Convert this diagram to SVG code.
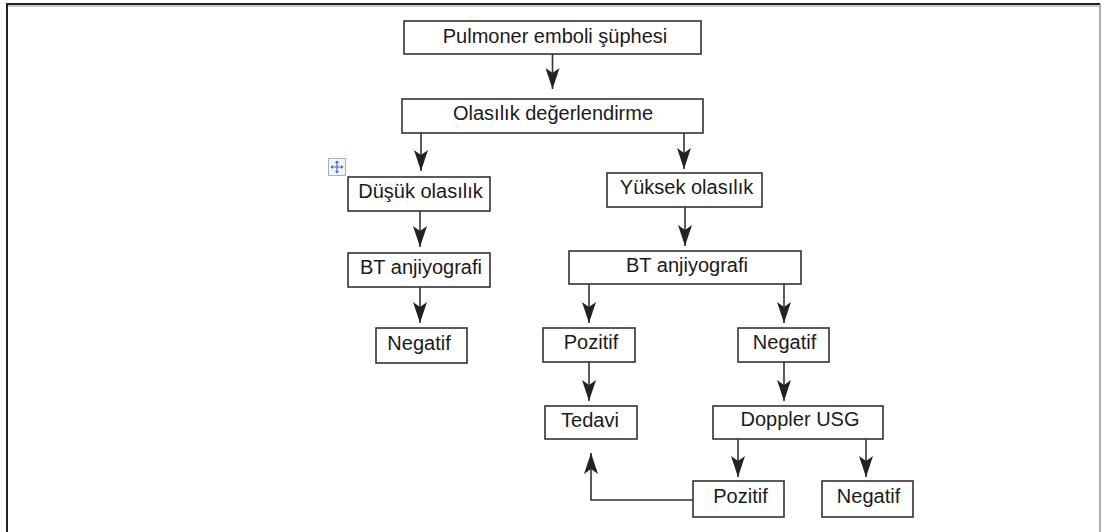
<svg xmlns="http://www.w3.org/2000/svg" width="1101" height="532" viewBox="0 0 1101 532">
  <defs>
    <marker id="arr" markerUnits="userSpaceOnUse" markerWidth="22" markerHeight="14" viewBox="0 0 22 14" refX="21" refY="7" orient="auto">
      <path d="M0,0 L21,7 L0,14 L5,7 Z" fill="#222"/>
    </marker>
    <style>
      .box { fill: #ffffff; stroke: #333333; stroke-width: 1.6; }
      .lbl { font-family: "Liberation Sans", Arial, sans-serif; font-size: 20px; fill: #1a1a1a; text-anchor: middle; }
      .con { fill: none; stroke: #333333; stroke-width: 1.6; marker-end: url(#arr); }
    </style>
  </defs>
  <rect width="1101" height="532" fill="#ffffff"/>
  <!-- outer frame -->
  <path d="M7,540 L7,4 L1100,4" fill="none" stroke="#222" stroke-width="2"/>
  <path d="M8,6 L1099,6" fill="none" stroke="#999" stroke-width="1"/>
  <path d="M1100,4 L1100,540" fill="none" stroke="#777" stroke-width="1.2"/>

  <!-- move handle -->
  <g id="move-handle">
    <rect x="328.5" y="158.5" width="17" height="17" fill="#f3f5f9" stroke="#a8b0bf" stroke-width="1"/>
    <path d="M337,161 L337,173 M331,167 L343,167" stroke="#3a6fd8" stroke-width="1.2"/>
    <path d="M337,160.5 L335,163 L339,163 Z M337,173.5 L335,171 L339,171 Z M330.5,167 L333,165 L333,169 Z M343.5,167 L341,165 L341,169 Z" fill="#3a6fd8"/>
  </g>

  <g id="connectors">
    <line class="con" x1="552.5" y1="54" x2="552.5" y2="89"/>
    <line class="con" x1="421" y1="133" x2="421" y2="171"/>
    <line class="con" x1="684" y1="133" x2="684" y2="169"/>
    <line class="con" x1="420" y1="211" x2="420" y2="247"/>
    <line class="con" x1="420" y1="287" x2="420" y2="323"/>
    <line class="con" x1="685" y1="207" x2="685" y2="246"/>
    <line class="con" x1="589" y1="284" x2="589" y2="323"/>
    <line class="con" x1="784" y1="284" x2="784" y2="323"/>
    <line class="con" x1="589" y1="362" x2="589" y2="401"/>
    <line class="con" x1="784" y1="362" x2="784" y2="401"/>
    <line class="con" x1="738" y1="439" x2="738" y2="477"/>
    <line class="con" x1="866" y1="439" x2="866" y2="477"/>
    <path class="con" d="M693,500 L591,500 L591,453"/>
  </g>

  <g id="n-pulmoner">
    <rect class="box" x="404" y="21" width="297" height="33"/>
    <text class="lbl" x="555" y="42.5">Pulmoner emboli şüphesi</text>
  </g>
  <g id="n-olasilik">
    <rect class="box" x="402" y="99" width="301" height="34"/>
    <text class="lbl" x="553" y="119.5">Olasılık değerlendirme</text>
  </g>
  <g id="n-dusuk">
    <rect class="box" x="348" y="177" width="142" height="34"/>
    <text class="lbl" x="420.5" y="197.5">Düşük olasılık</text>
  </g>
  <g id="n-yuksek">
    <rect class="box" x="607" y="173" width="155" height="34"/>
    <text class="lbl" x="686.5" y="194">Yüksek olasılık</text>
  </g>
  <g id="n-bt-left">
    <rect class="box" x="348" y="253" width="142" height="34"/>
    <text class="lbl" x="421" y="273.5">BT anjiyografi</text>
  </g>
  <g id="n-bt-right">
    <rect class="box" x="569" y="251" width="232" height="33"/>
    <text class="lbl" x="687" y="271.5">BT anjiyografi</text>
  </g>
  <g id="n-negatif-left">
    <rect class="box" x="376" y="328" width="91" height="35"/>
    <text class="lbl" x="419" y="349.5">Negatif</text>
  </g>
  <g id="n-pozitif">
    <rect class="box" x="543" y="328" width="92" height="34"/>
    <text class="lbl" x="591" y="349">Pozitif</text>
  </g>
  <g id="n-negatif">
    <rect class="box" x="738" y="328" width="91" height="34"/>
    <text class="lbl" x="784.5" y="349">Negatif</text>
  </g>
  <g id="n-tedavi">
    <rect class="box" x="545" y="406" width="92" height="33"/>
    <text class="lbl" x="590" y="426.5">Tedavi</text>
  </g>
  <g id="n-doppler">
    <rect class="box" x="713" y="406" width="170" height="33"/>
    <text class="lbl" x="800" y="426">Doppler USG</text>
  </g>
  <g id="n-pozitif-2">
    <rect class="box" x="693" y="481" width="91" height="36"/>
    <text class="lbl" x="740.5" y="502.5">Pozitif</text>
  </g>
  <g id="n-negatif-2">
    <rect class="box" x="822" y="481" width="91" height="36"/>
    <text class="lbl" x="868.5" y="502.5">Negatif</text>
  </g>
</svg>
